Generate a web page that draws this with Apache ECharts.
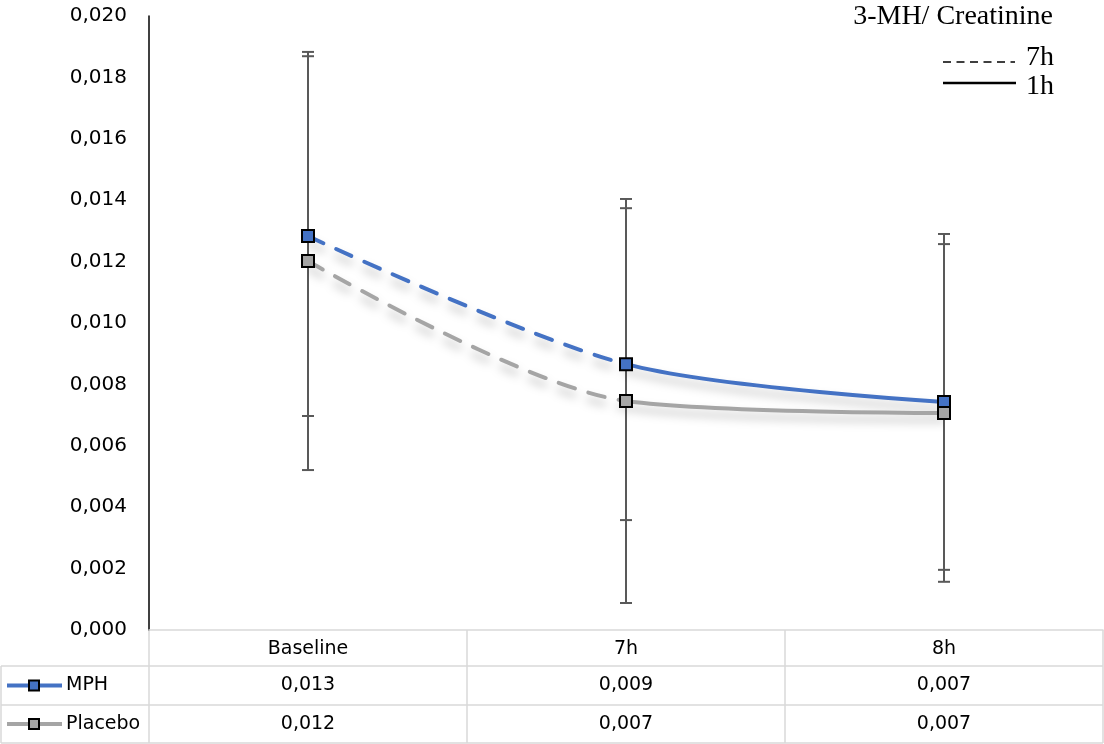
<!DOCTYPE html>
<html>
<head>
<meta charset="utf-8">
<script src="https://cdn.jsdelivr.net/npm/echarts@6/dist/echarts.min.js"></script>
<style>
html, body { margin: 0; padding: 0; background: #fff; }
#chart { width: 1104px; height: 744px; }
</style>
</head>
<body>
<div id="chart"></div>
<script>
const categories = ['Baseline', '7h', '8h'];
const mphValues = [0.01283, 0.00866, 0.00743];
const placeboValues = [0.01202, 0.00746, 0.00707];
const mphErrors = [0.00586, 0.00508, 0.00547];
const placeboErrors = [0.00681, 0.00658, 0.00550];
const yMin = 0;
const yMax = 0.020;
const yStep = 0.002;

const blue = '#4472C4';
const grey = '#A5A5A5';
const tableLine = '#D9D9D9';

const gridLeft = 149, gridRight = 1, gridTop = 16, gridBottom = 114;
const band = (1104 - gridLeft - gridRight) / categories.length;
const rowLines = [630, 666, 705, 743];

const fmt = v => v.toFixed(3).replace('.', ',');

const chart = echarts.init(document.getElementById('chart'));

const errorSeries = (values, errors) => ({
    type: 'custom',
    z: 1,
    silent: true,
    data: values.map((v, i) => [i, v, errors[i]]),
    renderItem: (params, api) => {
        const top = api.coord([api.value(0), api.value(1) + api.value(2)]);
        const bot = api.coord([api.value(0), api.value(1) - api.value(2)]);
        const cw = 6;
        const st = {stroke: '#595959', lineWidth: 2};
        return {
            type: 'group',
            children: [
                {type: 'line', shape: {x1: top[0], y1: top[1], x2: bot[0], y2: bot[1]}, style: st},
                {type: 'line', shape: {x1: top[0] - cw, y1: top[1], x2: top[0] + cw, y2: top[1]}, style: st},
                {type: 'line', shape: {x1: bot[0] - cw, y1: bot[1], x2: bot[0] + cw, y2: bot[1]}, style: st}
            ]
        };
    }
});

const lineSeries = (values, dashed) => ({
    type: 'line',
    z: 2,
    data: values,
    smooth: 0.3,
    showSymbol: false,
    silent: true,
    lineStyle: {
        width: 4,
        type: dashed ? [17, 14] : 'solid',
        cap: 'round',
        shadowColor: 'rgba(0,0,0,0.25)',
        shadowBlur: 10,
        shadowOffsetY: 7
    }
});

const markerSeries = (values, color) => ({
    type: 'line',
    z: 3,
    data: values,
    symbol: 'rect',
    symbolSize: 12,
    showSymbol: true,
    silent: true,
    lineStyle: {width: 0, opacity: 0},
    itemStyle: {color: color, borderColor: '#000', borderWidth: 2}
});

const segmentMap = (idx, from, to, color) => ({
    type: 'piecewise',
    show: false,
    seriesIndex: idx,
    dimension: 0,
    pieces: [{gte: from, lte: to, color: color}],
    outOfRange: {color: 'rgba(0,0,0,0)'}
});

// data table + legend drawn as graphic
const graphic = [];
const lineEl = (x1, y1, x2, y2, stroke, w, dash) => ({
    type: 'line', silent: true,
    shape: {x1, y1, x2, y2},
    style: {stroke: stroke, lineWidth: w, lineDash: dash || null}
});
const textEl = (text, x, y, font, align, base) => ({
    type: 'text', silent: true,
    style: {
        text: text, x: x, y: y, font: font, fill: '#000',
        textAlign: align, align: align,
        textVerticalAlign: base, verticalAlign: base
    }
});

rowLines.slice(1).forEach(y => graphic.push(lineEl(1, y, 1104 - gridRight, y, tableLine, 1.5)));
graphic.push(lineEl(1, rowLines[1], 1, rowLines[3], tableLine, 1.5));
for (let i = 0; i <= categories.length; i++) {
    const x = gridLeft + i * band;
    graphic.push(lineEl(x, rowLines[0], x, rowLines[3], tableLine, 1.5));
}

const tableFont = '19px "DejaVu Sans"';
[[mphValues, blue, 'MPH'], [placeboValues, grey, 'Placebo']].forEach(([vals, color, name], r) => {
    const cy = (rowLines[r + 1] + rowLines[r + 2]) / 2;
    graphic.push(lineEl(7, cy, 62, cy, color, 4));
    graphic.push({
        type: 'rect', silent: true,
        shape: {x: 29, y: cy - 5, width: 10, height: 10},
        style: {fill: color, stroke: '#000', lineWidth: 2}
    });
    graphic.push(textEl(name, 66, cy, tableFont, 'left', 'middle'));
    vals.forEach((v, i) => {
        graphic.push(textEl(fmt(v), gridLeft + (i + 0.5) * band, cy, tableFont, 'center', 'middle'));
    });
});

// title and line-style key
const serif = '"Liberation Serif", "Times New Roman", serif';
graphic.push(textEl('3-MH/ Creatinine', 1053, 31, '28px ' + serif, 'right', 'bottom'));
graphic.push(lineEl(943, 62, 1015, 62, '#000', 1.5, [8, 5.5]));
graphic.push(textEl('7h', 1054, 72, '28px ' + serif, 'right', 'bottom'));
graphic.push(lineEl(943, 83, 1016, 83, '#000', 2.5));
graphic.push(textEl('1h', 1054, 101, '28px ' + serif, 'right', 'bottom'));

chart.setOption({
    animation: false,
    grid: {left: gridLeft, right: gridRight, top: gridTop, bottom: gridBottom, containLabel: false},
    xAxis: {
        type: 'category',
        data: categories,
        boundaryGap: true,
        axisLine: {show: true, lineStyle: {color: tableLine, width: 1.5}},
        axisTick: {show: false},
        axisLabel: {color: '#000', fontSize: 19, fontFamily: 'DejaVu Sans', margin: 10},
        splitLine: {show: false}
    },
    yAxis: {
        type: 'value',
        min: yMin,
        max: yMax,
        interval: yStep,
        axisLine: {show: true, lineStyle: {color: '#000', width: 1.5}},
        axisTick: {show: false},
        splitLine: {show: false},
        axisLabel: {color: '#000', fontSize: 20, fontFamily: 'DejaVu Sans', margin: 22, formatter: v => fmt(v)}
    },
    visualMap: [
        segmentMap(2, 0, 1, blue),
        segmentMap(3, 1, 2, blue),
        segmentMap(4, 0, 1, grey),
        segmentMap(5, 1, 2, grey)
    ],
    series: [
        errorSeries(mphValues, mphErrors),
        errorSeries(placeboValues, placeboErrors),
        lineSeries(mphValues, true),
        lineSeries(mphValues, false),
        lineSeries(placeboValues, true),
        lineSeries(placeboValues, false),
        markerSeries(mphValues, blue),
        markerSeries(placeboValues, grey)
    ],
    graphic: graphic
});
</script>
</body>
</html>
